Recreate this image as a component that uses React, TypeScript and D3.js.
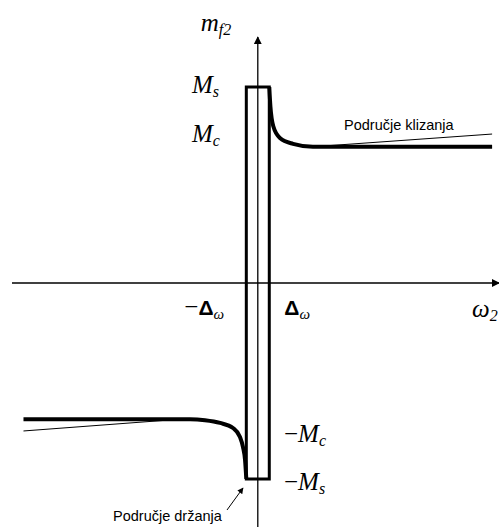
import React from "react";
import * as d3 from "d3";

// friction torque vs. speed (Stribeck-like), omega in units of delta, torque in units of Ms
const omegaDomain = [-21.4, 21.0];
const torqueDomain = [-1, 1];
const delta = 1;
const ms = 1;
const mc = 0.695;

// thick curve, sliding region (positive speed)
const slipCurve: [number, number][] = [
  [1, 1], [1.1, 0.9], [1.35, 0.8], [1.93, 0.74], [3.07, 0.71], [4.8, 0.695], [20.4, 0.695],
];
// thin viscous line, positive side
const slipViscous: [number, number][] = [[4.8, 0.695], [20.4, 0.76]];

// thick curve, negative speed
const negCurve: [number, number][] = [
  [-20.4, -0.695], [-5.9, -0.695], [-4.6, -0.7], [-3.29, -0.714], [-2.16, -0.74],
  [-1.55, -0.786], [-1.29, -0.837], [-1.11, -0.903], [-1, -1],
];
const negViscous: [number, number][] = [[-20.4, -0.755], [-6.8, -0.695]];

const regionLabels = ["Područje klizanja", "Područje držanja"];

const W = 499, H = 527;
const serif = "'Liberation Serif', 'Times New Roman', serif";
const sans = "'Liberation Sans', Arial, sans-serif";

const MathLabel = ({ x, y, minus, main, sub, mainStyle = "italic", mainFont = serif, mainWeight = "normal", mainSize = 25, subSize = 16 }: any) => (
  <text x={x} y={y} fontFamily={serif} fontSize={25}>
    {minus ? <tspan>−</tspan> : null}
    <tspan fontStyle={mainStyle} fontFamily={mainFont} fontWeight={mainWeight} fontSize={mainSize}>{main}</tspan>
    <tspan fontStyle="italic" fontSize={subSize} dy={4}>{sub}</tspan>
  </text>
);

const App = () => {
  const x = d3.scaleLinear().domain(omegaDomain).range([12, 499]);
  const y = d3.scaleLinear().domain(torqueDomain).range([479, 87]);
  const line = d3.line<[number, number]>()
    .x(d => x(d[0]))
    .y(d => y(d[1]))
    .curve(d3.curveMonotoneX);
  const straight = d3.line<[number, number]>().x(d => x(d[0])).y(d => y(d[1]));

  const x0 = x(0), y0 = y(0);
  const rect = `M${x(-delta)},${y(-ms)}L${x(-delta)},${y(ms)}L${x(delta)},${y(ms)}L${x(delta)},${y(-ms)}Z`;

  return (
    <div style={{ position: "absolute", left: 0, top: 0 }}>
      <svg width={W} height={H} style={{ display: "block", background: "#fff" }}>
        <defs>
          <marker id="head" viewBox="0 0 10 10" refX="9" refY="5" markerWidth="8" markerHeight="8"
            markerUnits="userSpaceOnUse" orient="auto">
            <path d="M0,0L10,5L0,10Z" fill="#000" />
          </marker>
          <marker id="thin" viewBox="0 0 10 10" refX="9" refY="5" markerWidth="8" markerHeight="6"
            markerUnits="userSpaceOnUse" orient="auto">
            <path d="M0,0L10,5L0,10Z" fill="#000" />
          </marker>
        </defs>

        {/* axes */}
        <line x1={x(omegaDomain[0])} y1={y0} x2={x(omegaDomain[1])} y2={y0} stroke="#000" strokeWidth={1.3} markerEnd="url(#head)" />
        <line x1={x0} y1={H} x2={x0} y2={37} stroke="#000" strokeWidth={1.3} markerEnd="url(#head)" />

        {/* sticking band */}
        <path d={rect} fill="none" stroke="#000" strokeWidth={3} />

        {/* thin viscous lines */}
        <path d={straight(slipViscous) || ""} fill="none" stroke="#000" strokeWidth={1} />
        <path d={straight(negViscous) || ""} fill="none" stroke="#000" strokeWidth={1} />

        {/* thick friction curves */}
        <path d={line(slipCurve) || ""} fill="none" stroke="#000" strokeWidth={4} strokeLinejoin="round" />
        <path d={line(negCurve) || ""} fill="none" stroke="#000" strokeWidth={4} strokeLinejoin="round" />

        {/* axis labels */}
        <MathLabel x={x0 - 57} y={31} main="m" sub="f2" />
        <MathLabel x={x(omegaDomain[1]) - 27} y={y0 + 34} main="ω" sub="2" />
        <MathLabel x={192} y={y(ms) + 6} main="M" sub="s" />
        <MathLabel x={192} y={y(mc) - 5} main="M" sub="c" />
        <MathLabel x={284} y={y(-mc) + 23} minus main="M" sub="c" />
        <MathLabel x={284} y={y(-ms) + 11} minus main="M" sub="s" />
        <MathLabel x={x(-delta) - 62} y={y0 + 32} minus main="Δ" sub="ω" mainStyle="normal" mainFont={sans} mainWeight="bold" mainSize={21} subSize={15} />
        <MathLabel x={x(delta) + 15} y={y0 + 32} main="Δ" sub="ω" mainStyle="normal" mainFont={sans} mainWeight="bold" mainSize={21} subSize={15} />

        {/* region annotations */}
        <text x={344} y={130} fontFamily={sans} fontSize={14.5}>{regionLabels[0]}</text>
        <text x={113} y={521} fontFamily={sans} fontSize={14.5}>{regionLabels[1]}</text>
        <line x1={227} y1={510} x2={243} y2={488} stroke="#000" strokeWidth={1} markerEnd="url(#thin)" />
      </svg>
    </div>
  );
};

export default App;
